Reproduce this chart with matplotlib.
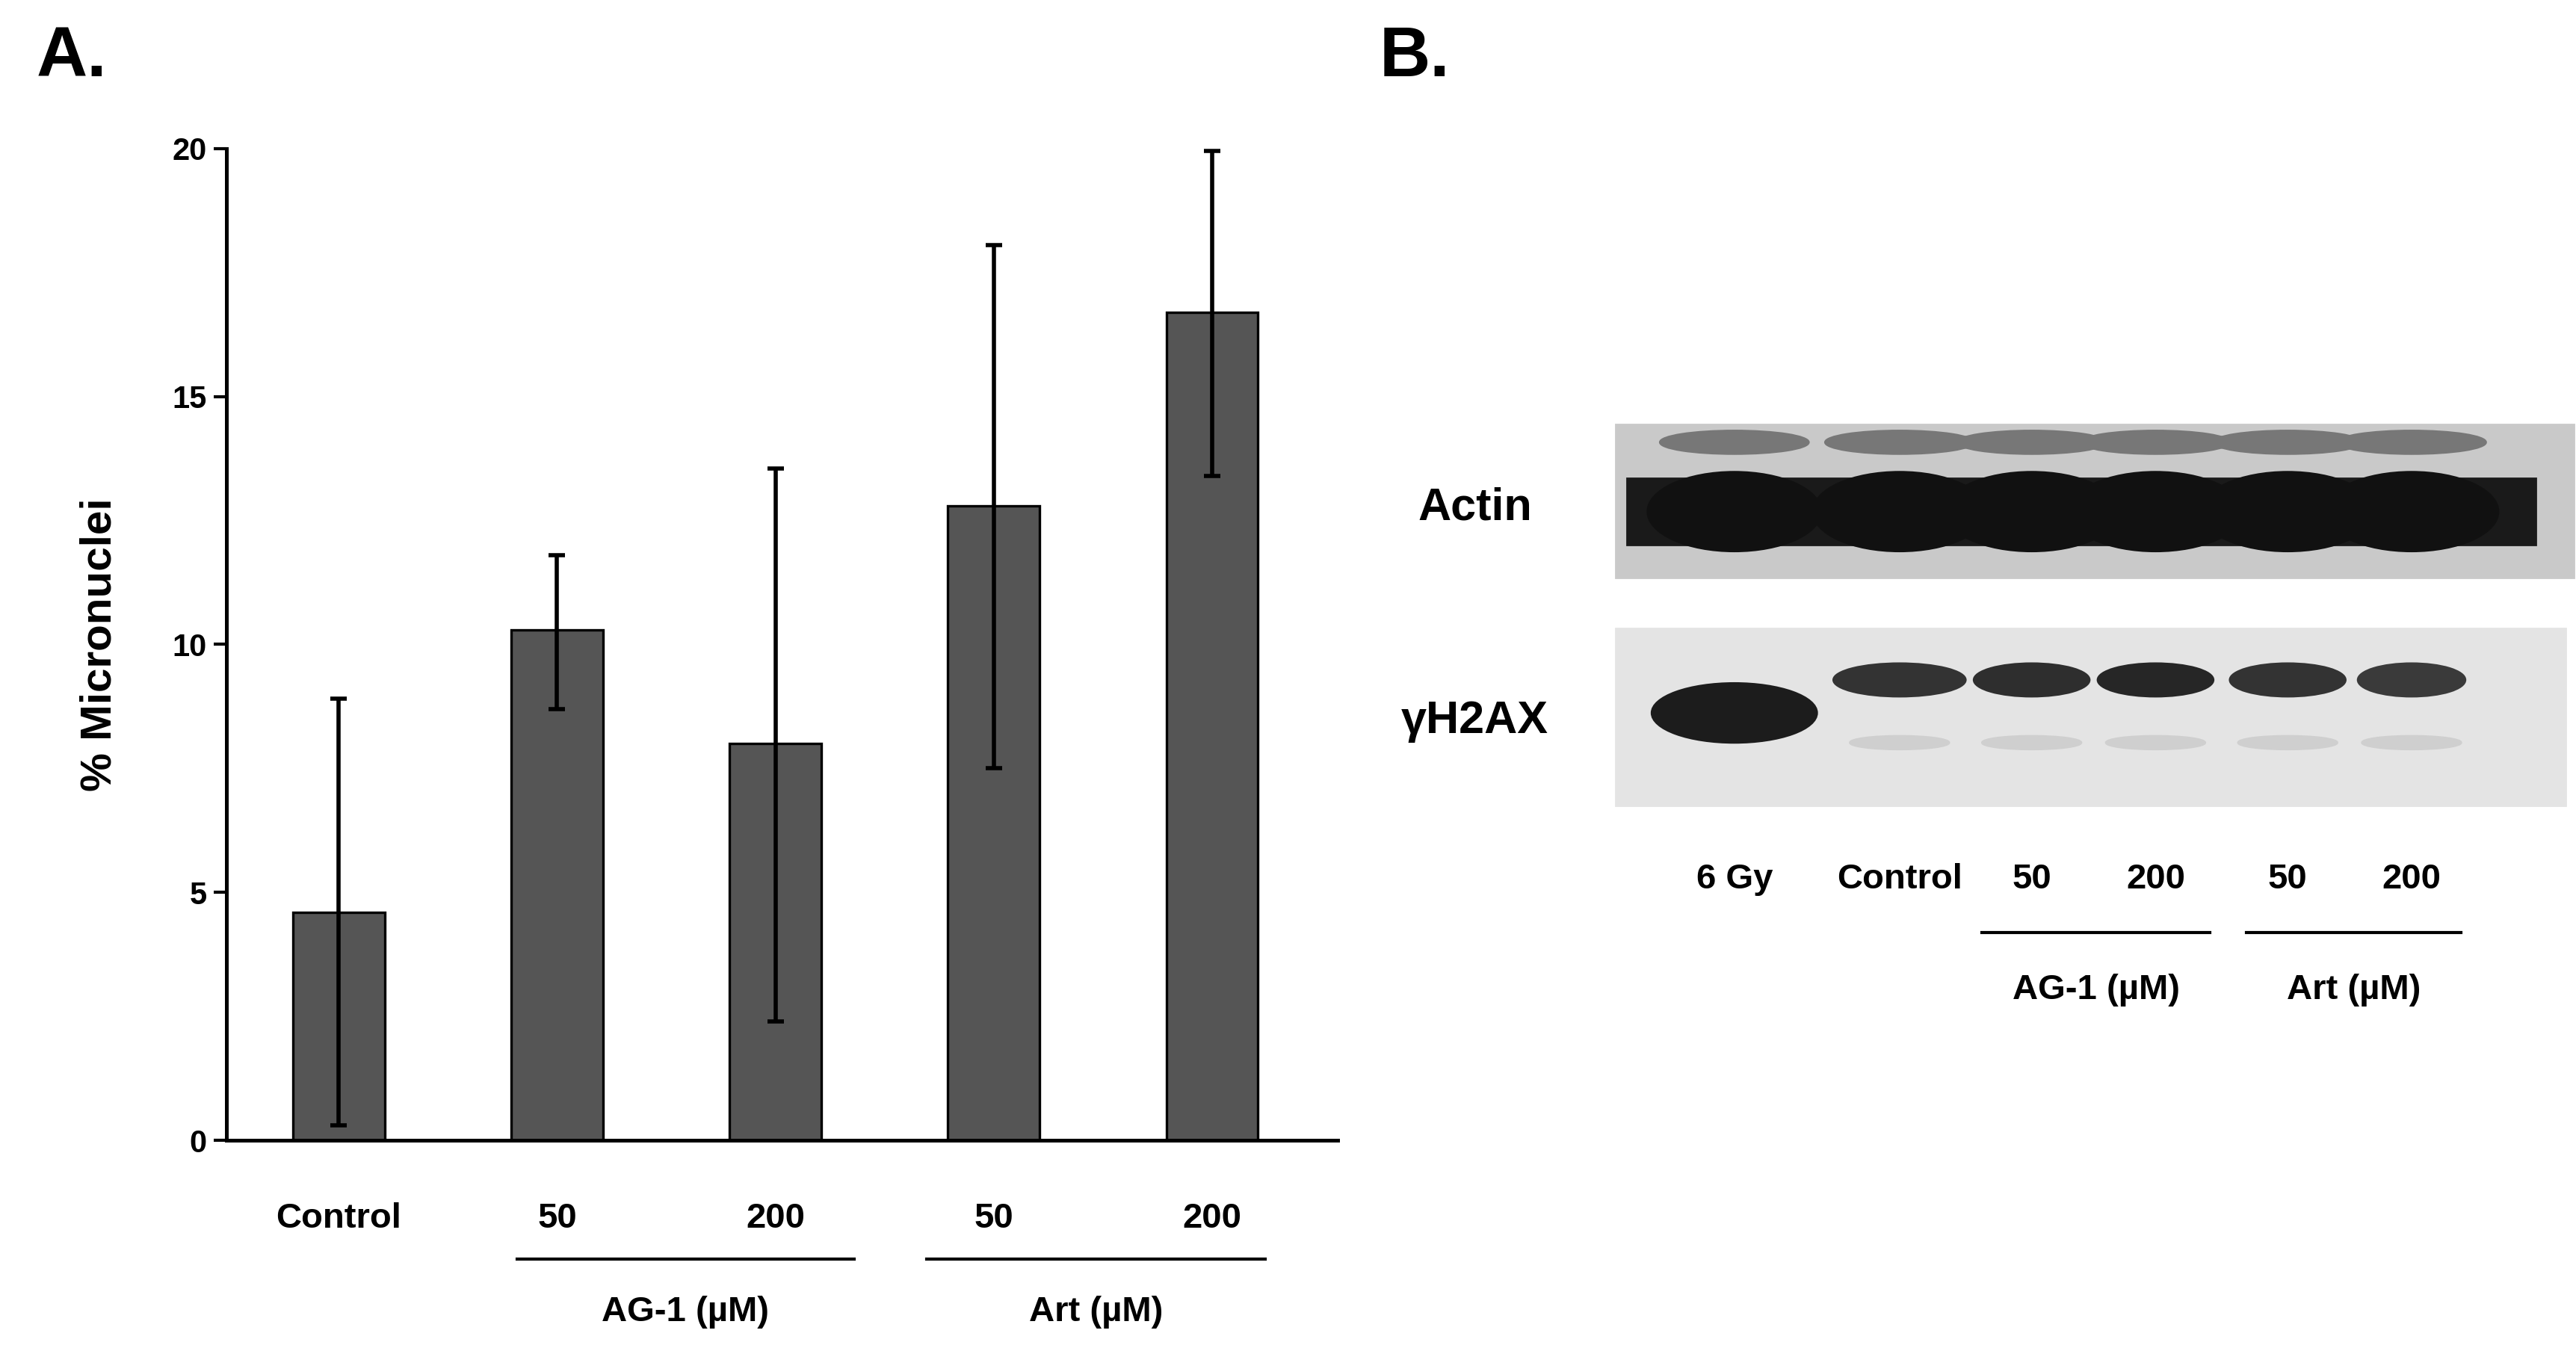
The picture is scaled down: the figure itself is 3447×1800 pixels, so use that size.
import matplotlib
matplotlib.use("Agg")
import matplotlib.pyplot as plt
from matplotlib.patches import Rectangle, Ellipse

plt.rcParams['font.family'] = ['Liberation Sans', 'DejaVu Sans']
plt.rcParams['font.weight'] = 'bold'

cats = ["Control", "50", "200", "50", "200"]
vals = [4.6, 10.3, 8.0, 12.8, 16.7]
err_lo = [4.3, 1.6, 5.6, 5.3, 3.3]
err_hi = [4.3, 1.5, 5.55, 5.25, 3.25]
groups = ["AG-1 (µM)", "Art (µM)"]
lanes = ["6 Gy", "Control", "50", "200", "50", "200"]

W, H = 1560, 815
fig = plt.figure(figsize=(17.24, 9), dpi=200)
bg = fig.add_axes([0, 0, 1, 1])
bg.set_xlim(0, W); bg.set_ylim(H, 0); bg.axis('off')

ax = fig.add_axes([137/W, 1-691/H, (810-137)/W, (691-90)/H])
x = list(range(len(vals)))
ax.bar(x, vals, width=0.42, color='#555555', edgecolor='black', linewidth=1.2, zorder=2)
ax.errorbar(x, vals, yerr=[err_lo, err_hi], fmt='none', ecolor='black', elinewidth=2, capsize=4, capthick=2, zorder=3)
ax.set_xlim(-0.515, 4.576); ax.set_ylim(0, 20)
ax.set_yticks([0, 5, 10, 15, 20])
ax.set_xticks(x); ax.set_xticklabels(cats, fontsize=17, fontweight='bold')
ax.tick_params(axis='x', length=0, pad=30)
ax.tick_params(axis='y', labelsize=15, width=1.5, length=6)
for s in ['top', 'right']: ax.spines[s].set_visible(False)
for s in ['left', 'bottom']: ax.spines[s].set_linewidth(1.8)
ax.set_ylabel("% Micronuclei", fontsize=21, fontweight='bold', labelpad=25)

# group lines panel A
for (x0, x1), g in zip([(313, 517), (561, 766)], groups):
    bg.plot([x0, x1], [763, 763], color='black', lw=1.5)
    bg.text((x0+x1)/2, 795, g, ha='center', va='center', fontsize=17, fontweight='bold')

bg.text(22, 35, "A.", fontsize=34, fontweight='bold', va='center')
bg.text(835, 35, "B.", fontsize=34, fontweight='bold', va='center')

# Blot
bg.add_patch(Rectangle((978, 257), 580, 93, color='#c9c9c9', zorder=1))
bg.add_patch(Rectangle((978, 381), 575, 107, color='#e4e4e4', zorder=1))
lane_x = [1050, 1150, 1230, 1305, 1385, 1460]
bg.add_patch(Rectangle((985, 290), 550, 40, color='#1a1a1a', zorder=2))
for lx in lane_x:
    bg.add_patch(Ellipse((lx, 310), 105, 48, color='#111111', zorder=3))
    bg.add_patch(Ellipse((lx, 268), 90, 14, color='#777777', zorder=2))
bg.add_patch(Ellipse((1050, 432), 100, 36, color='#1c1c1c', zorder=3))
gam_w = [0, 80, 70, 70, 70, 65]
gam_c = [None, '#333333', '#2e2e2e', '#262626', '#333333', '#3a3a3a']
for lx, w, c in zip(lane_x[1:], gam_w[1:], gam_c[1:]):
    bg.add_patch(Ellipse((lx, 412), w, 20, color=c, zorder=3))
for lx in lane_x[1:]:
    bg.add_patch(Ellipse((lx, 450), 60, 8, color='#cfcfcf', zorder=2))
bg.text(893, 308, "Actin", fontsize=22, fontweight='bold', ha='center', va='center')
bg.text(893, 437, "γH2AX", fontsize=22, fontweight='bold', ha='center', va='center')
for lx, l in zip(lane_x, lanes):
    bg.text(lx, 533, l, fontsize=17, fontweight='bold', ha='center', va='center')
for (x0, x1), g in zip([(1200, 1338), (1360, 1490)], groups):
    bg.plot([x0, x1], [565, 565], color='black', lw=1.5)
    bg.text((x0+x1)/2, 600, g, ha='center', va='center', fontsize=17, fontweight='bold')

fig.savefig("out.png", dpi=200, facecolor='white')
